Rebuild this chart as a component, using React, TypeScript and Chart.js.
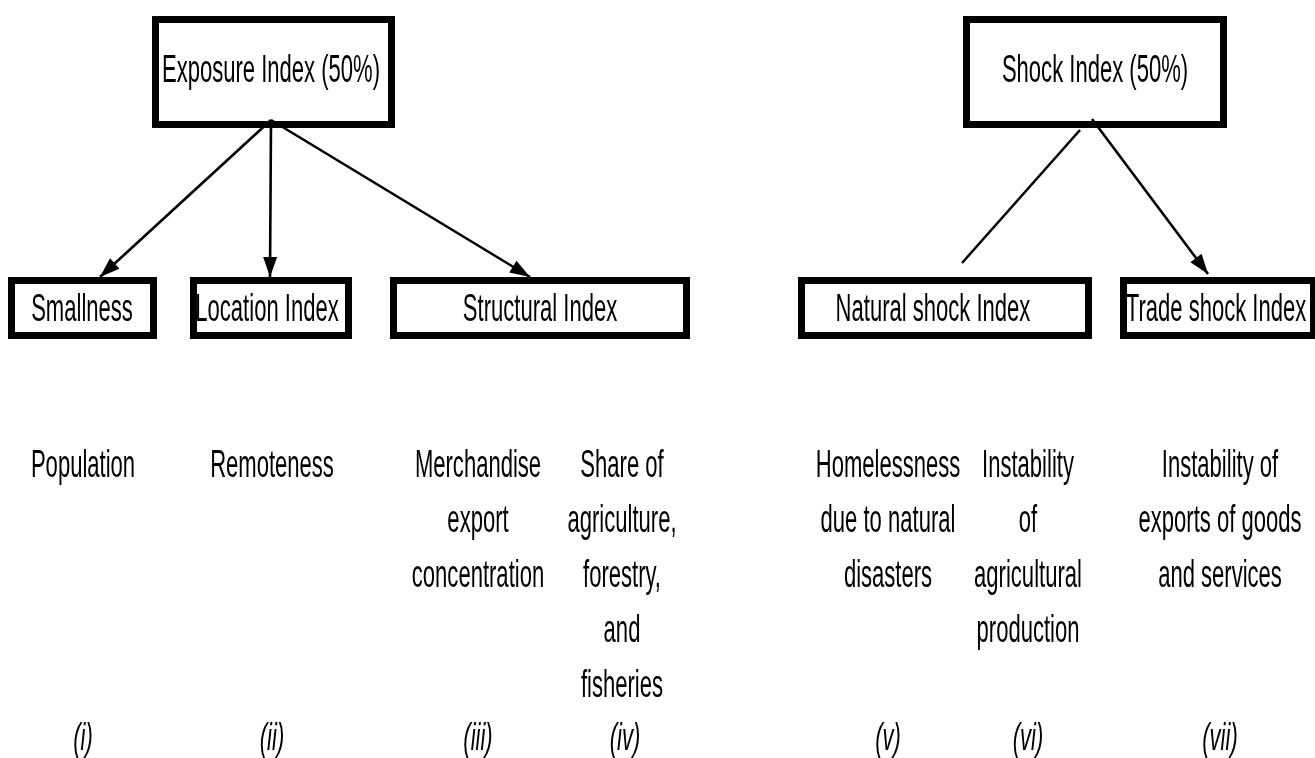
import React, { useEffect, useRef } from "react";
import { Chart, registerables } from "chart.js";

Chart.register(...registerables);

// Diagram space: x 0..1315, y 0..758 (top to bottom)
const boxLabels = [
  "Exposure Index (50%)",
  "Shock Index (50%)",
  "Smallness",
  "Location Index",
  "Structural Index",
  "Natural shock Index",
  "Trade shock Index",
];
const boxLeft = [155.5, 966.5, 11.5, 193.5, 393.5, 801.5, 1123.5];
const boxRight = [391.5, 1223.5, 153.5, 348.5, 686.5, 1088.5, 1313.5];
const boxTop = [19.5, 19.5, 280.5, 280.5, 280.5, 280.5, 280.5];
const boxBottom = [124.5, 124.5, 335.5, 335.5, 335.5, 335.5, 335.5];
const boxLabelX = [271, 1095, 82, 267, 540, 933, 1216];
const boxLabelY = [82, 82, 321, 321, 321, 321, 321];

const arrowFromX = [271, 271, 271, 1080, 1092];
const arrowFromY = [120, 120, 120, 130, 119];
const arrowToX = [100, 270, 530, 962, 1208];
const arrowToY = [277, 277, 277, 263, 274];
const arrowHasHead = [true, true, true, false, true];

const indicatorLines = [
  ["Population"],
  ["Remoteness"],
  ["Merchandise", "export", "concentration"],
  ["Share of", "agriculture,", "forestry,", "and", "fisheries"],
  ["Homelessness", "due to natural", "disasters"],
  ["Instability", "of", "agricultural", "production"],
  ["Instability of", "exports of goods", "and services"],
];
const indicatorX = [83, 272, 478, 622, 888, 1028, 1220];
const indicatorFirstY = 477;
const indicatorStep = 55;

const numerals = ["(i)", "(ii)", "(iii)", "(iv)", "(v)", "(vi)", "(vii)"];
const numeralX = [83, 272, 478, 625, 888, 1028, 1220];
const numeralY = 750;

const FONT_FAMILY = '"Liberation Sans", Arial, sans-serif';
const FONT_SIZE = 38;
const TEXT_SCALE_X = 0.58;

const diagramPlugin = {
  id: "diagramText",
  afterDatasetsDraw(chart: any) {
    const ctx = chart.ctx as CanvasRenderingContext2D;
    const xs = chart.scales.x;
    const ys = chart.scales.y;
    const drawText = (t: string, x: number, y: number, italic: boolean) => {
      ctx.save();
      ctx.translate(xs.getPixelForValue(x), ys.getPixelForValue(y));
      ctx.scale(TEXT_SCALE_X, 1);
      ctx.font = `${italic ? "italic " : ""}${FONT_SIZE}px ${FONT_FAMILY}`;
      ctx.fillStyle = "#000";
      ctx.textAlign = "center";
      ctx.textBaseline = "alphabetic";
      ctx.fillText(t, 0, 0);
      ctx.restore();
    };
    boxLabels.forEach((t, i) => drawText(t, boxLabelX[i], boxLabelY[i], false));
    indicatorLines.forEach((lines, i) =>
      lines.forEach((t, j) => drawText(t, indicatorX[i], indicatorFirstY + j * indicatorStep, false))
    );
    numerals.forEach((t, i) => drawText(t, numeralX[i], numeralY, true));

    // arrowheads
    arrowHasHead.forEach((has, i) => {
      if (!has) return;
      const x0 = xs.getPixelForValue(arrowFromX[i]);
      const y0 = ys.getPixelForValue(arrowFromY[i]);
      const x1 = xs.getPixelForValue(arrowToX[i]);
      const y1 = ys.getPixelForValue(arrowToY[i]);
      const a = Math.atan2(y1 - y0, x1 - x0);
      const len = 20;
      const hw = 7;
      const bx = x1 - len * Math.cos(a);
      const by = y1 - len * Math.sin(a);
      ctx.save();
      ctx.fillStyle = "#000";
      ctx.beginPath();
      ctx.moveTo(x1, y1);
      ctx.lineTo(bx + hw * Math.sin(a), by - hw * Math.cos(a));
      ctx.lineTo(bx - hw * Math.sin(a), by + hw * Math.cos(a));
      ctx.closePath();
      ctx.fill();
      ctx.restore();
    });
  },
};

export default function App() {
  const ref = useRef<HTMLCanvasElement>(null);
  useEffect(() => {
    document.body.style.margin = "0";
    const boxSets = boxLabels.map((lab, i) => ({
      label: lab,
      data: [
        { x: boxLeft[i], y: boxTop[i] },
        { x: boxRight[i], y: boxTop[i] },
        { x: boxRight[i], y: boxBottom[i] },
        { x: boxLeft[i], y: boxBottom[i] },
        { x: boxLeft[i], y: boxTop[i] },
      ],
      showLine: true,
      borderColor: "#000",
      backgroundColor: "#000",
      borderWidth: 7,
      pointRadius: 0,
      borderJoinStyle: "miter",
      borderCapStyle: "square",
      clip: false,
      fill: false,
      tension: 0,
    }));
    const arrowSets = arrowFromX.map((_, i) => ({
      label: "arrow" + i,
      data: [
        { x: arrowFromX[i], y: arrowFromY[i] },
        { x: arrowToX[i], y: arrowToY[i] },
      ],
      showLine: true,
      borderColor: "#000",
      backgroundColor: "#000",
      borderWidth: 2.6,
      pointRadius: 0,
      clip: false,
      fill: false,
      tension: 0,
    }));
    const chart = new Chart(ref.current as HTMLCanvasElement, {
      type: "scatter",
      data: { datasets: [...boxSets, ...arrowSets] as any },
      options: {
        animation: false,
        responsive: false,
        maintainAspectRatio: false,
        layout: { padding: 0 },
        plugins: { legend: { display: false }, tooltip: { enabled: false } },
        events: [],
        scales: {
          x: { type: "linear", min: 0, max: 1315, display: false },
          y: { type: "linear", min: 0, max: 758, reverse: true, display: false },
        },
      },
      plugins: [diagramPlugin],
    });
    return () => chart.destroy();
  }, []);
  return (
    <canvas ref={ref} width={1315} height={758} style={{ display: "block", background: "#fff" }} />
  );
}
